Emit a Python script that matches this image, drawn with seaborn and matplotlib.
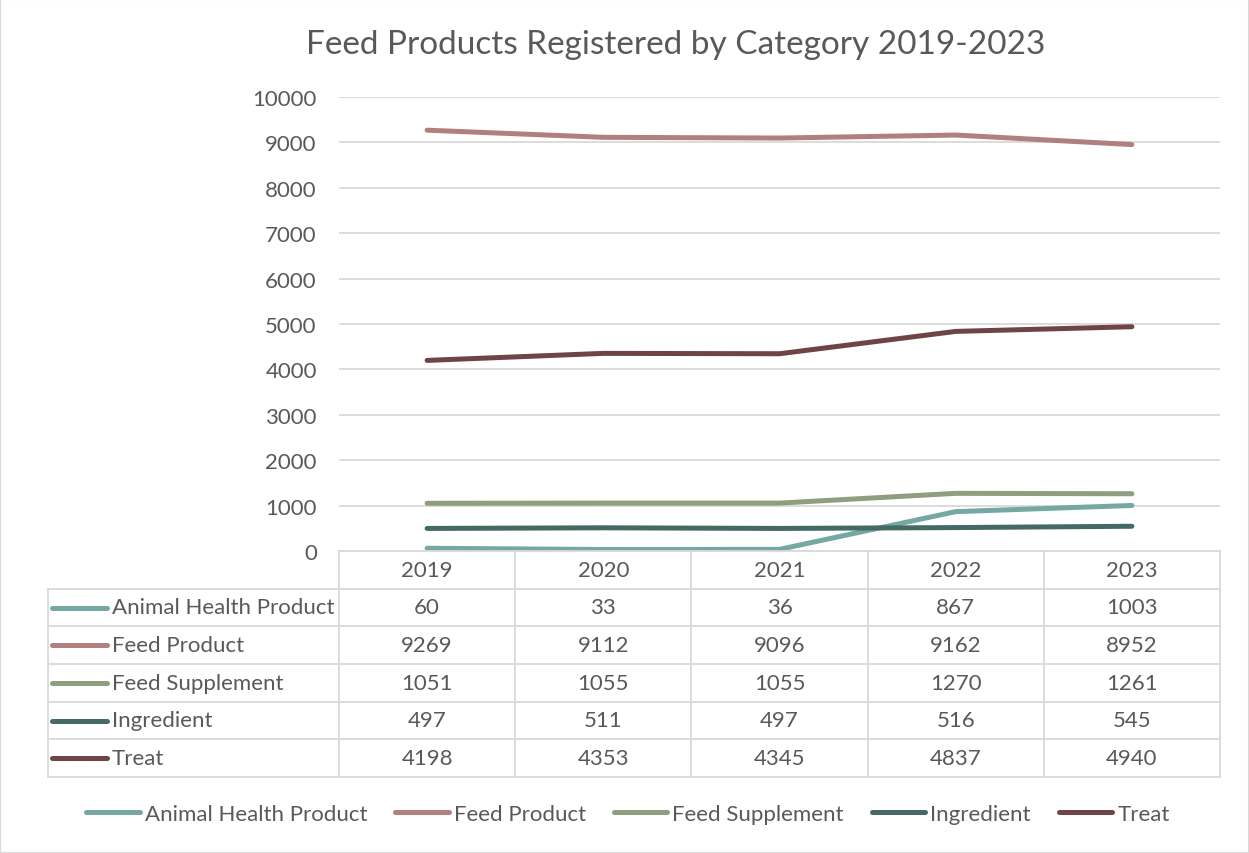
import pandas as pd
import numpy as np
import matplotlib
matplotlib.use("Agg")
import matplotlib.pyplot as plt
import seaborn as sns
from matplotlib.lines import Line2D
from matplotlib.patches import Rectangle

# data
years = [2019, 2020, 2021, 2022, 2023]
categories = ["Animal Health Product", "Feed Product", "Feed Supplement", "Ingredient", "Treat"]
animal_health = [60, 33, 36, 867, 1003]
feed_product = [9269, 9112, 9096, 9162, 8952]
feed_supplement = [1051, 1055, 1055, 1270, 1261]
ingredient = [497, 511, 497, 516, 545]
treat = [4198, 4353, 4345, 4837, 4940]
colors = ["#75A8A2", "#B08080", "#8F9E7F", "#456A66", "#6E4446"]

series = [animal_health, feed_product, feed_supplement, ingredient, treat]
df = pd.DataFrame({
    "year": years * len(categories),
    "category": np.repeat(categories, len(years)),
    "count": np.concatenate(series),
})
palette = dict(zip(categories, colors))

sns.set_theme(style="white")
plt.rcParams["font.family"] = ["Lato", "DejaVu Sans"]
txt = "#595959"
grid = "#D9D9D9"
fs = 16

W, H = 1249, 854
fig = plt.figure(figsize=(W / 100, H / 100), dpi=100)

# main plot area (pixel layout of the reference)
x0, x1, ytop, ybot = 339, 1220, 98, 552
ax = fig.add_axes([x0 / W, 1 - ybot / H, (x1 - x0) / W, (ybot - ytop) / H])
sns.lineplot(data=df, x="year", y="count", hue="category", palette=palette,
             linewidth=3.6, ax=ax, legend=False, solid_capstyle="round")
ax.set_xlim(2018.5, 2023.5)
ax.set_ylim(0, 10000)
ax.set_yticks(range(0, 10001, 1000))
ax.set_xticks([])
ax.set_xlabel("")
ax.set_ylabel("")
ax.yaxis.grid(True, color=grid, linewidth=1.3)
ax.set_axisbelow(True)
for s in ["top", "right", "left"]:
    ax.spines[s].set_visible(False)
ax.spines["bottom"].set_color(grid)
ax.spines["bottom"].set_linewidth(1.3)
ax.tick_params(axis="y", length=0, pad=16, labelsize=fs, labelcolor=txt)

# data table below the plot
tl, tb = 48, 778
tax = fig.add_axes([tl / W, 1 - tb / H, (x1 - tl) / W, (tb - ybot) / H])
unit = (x1 - x0) / 5
left = 2018.5 - (x0 - tl) / unit
tax.set_xlim(left, 2023.5)
tax.set_ylim(6, 0)
tax.axis("off")
for xv in np.arange(2018.5, 2024.0, 1.0):
    tax.plot([xv, xv], [0, 6], color=grid, lw=1.3, clip_on=False)
tax.plot([left, left], [1, 6], color=grid, lw=1.3, clip_on=False)
for yv in range(1, 7):
    tax.plot([left, 2023.5], [yv, yv], color=grid, lw=1.3, clip_on=False)
for yr in years:
    tax.text(yr, 0.5, str(yr), ha="center", va="center", fontsize=fs, color=txt)
for r, (cat, vals) in enumerate(zip(categories, series)):
    yc = r + 1.5
    tax.plot([left + 4 / unit, left + 59 / unit], [yc, yc], color=palette[cat],
             lw=3.6, solid_capstyle="round")
    tax.text(left + 64 / unit, yc, cat, ha="left", va="center", fontsize=fs, color=txt)
    for yr, v in zip(years, vals):
        tax.text(yr, yc, str(v), ha="center", va="center", fontsize=fs, color=txt)

# title
fig.text(676 / W, 1 - 45 / H, "Feed Products Registered by Category 2019-2023",
         ha="center", va="center", fontsize=24, color=txt)

# bottom legend
handles = [Line2D([0], [0], color=c, lw=3.6, solid_capstyle="round") for c in colors]
fig.legend(handles, categories, loc="center", bbox_to_anchor=(628 / W, 1 - 815 / H),
           ncol=5, frameon=False, fontsize=fs, labelcolor=txt, handlelength=2.4,
           handletextpad=0.23, columnspacing=1.26)

fig.patches.append(Rectangle((0, 0), 1, 1, transform=fig.transFigure, fill=False,
                             edgecolor=grid, linewidth=1.5))

fig.savefig("out.png", dpi=100, facecolor="white")
